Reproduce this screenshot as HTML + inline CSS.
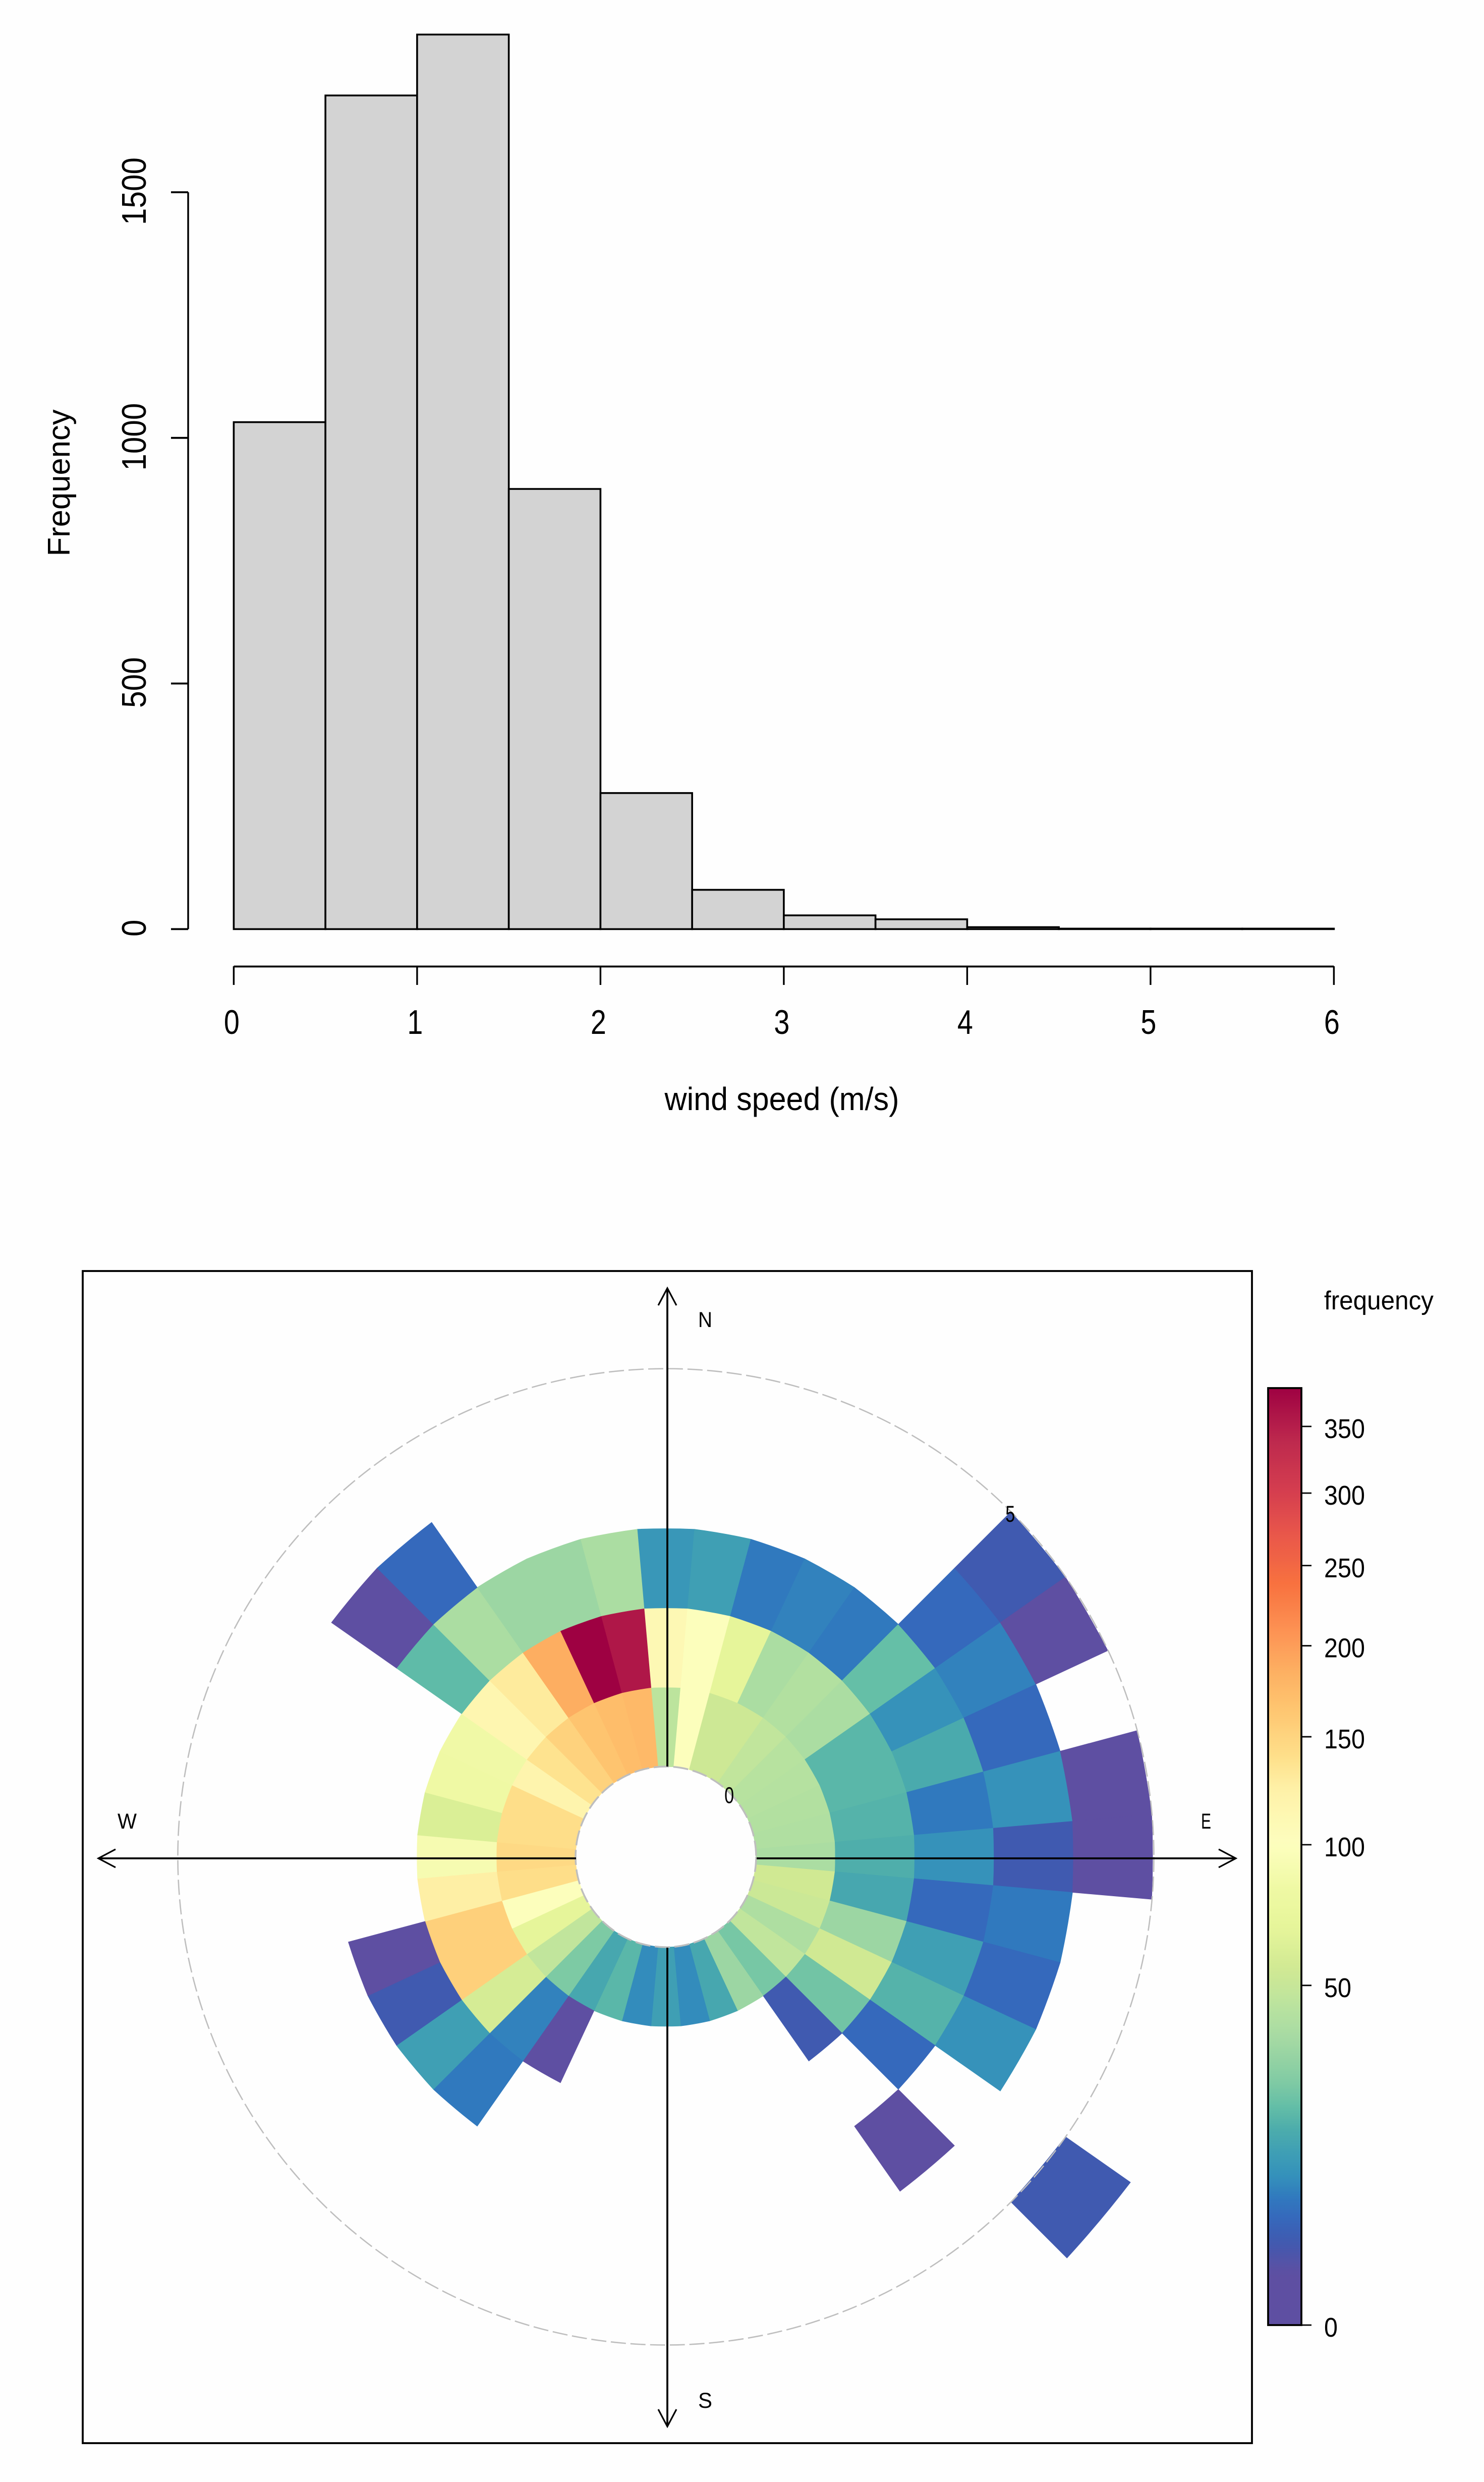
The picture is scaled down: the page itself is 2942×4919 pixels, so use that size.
<!DOCTYPE html>
<html lang="en">
<head>
<meta charset="utf-8">
<title>Wind speed histogram and polar frequency plot</title>
<style>
html,body{margin:0;padding:0;background:#fefefe;}
svg{display:block;}
text{font-family:"Liberation Sans",sans-serif;fill:#000;}
</style>
</head>
<body>
<svg id="figure" xmlns="http://www.w3.org/2000/svg" width="2942" height="4919" viewBox="0 0 2942 4919">
  <rect x="0" y="0" width="2942" height="4919" fill="#fefefe"/>
  <g id="hist">
    <text x="138" y="957" font-size="62" text-anchor="middle" textLength="291" lengthAdjust="spacingAndGlyphs" transform="rotate(-90 138 957)">Frequency</text>
    <text x="1550" y="2200" font-size="64" text-anchor="middle" textLength="465" lengthAdjust="spacingAndGlyphs">wind speed (m/s)</text>
  </g>
  <g id="polar">
    <rect x="164" y="2519" width="2318" height="2323" fill="none" stroke="#000" stroke-width="3.8"/>
    <g id="wedges"></g>
    <g id="polar-guides"></g>
    <text x="1384" y="2630" font-size="43" textLength="28" lengthAdjust="spacingAndGlyphs">N</text>
    <text x="1384" y="4772" font-size="43" textLength="28" lengthAdjust="spacingAndGlyphs">S</text>
    <text x="233" y="3624" font-size="43" textLength="38" lengthAdjust="spacingAndGlyphs">W</text>
    <text x="2381" y="3624" font-size="43" textLength="20" lengthAdjust="spacingAndGlyphs">E</text>
  </g>
  <g id="legend">
    <text x="2625" y="2595" font-size="52" textLength="217" lengthAdjust="spacingAndGlyphs">frequency</text>
  </g>
</svg>
<script>
// ---------- histogram data ----------
const histBreaks = [0, 0.5, 1, 1.5, 2, 2.5, 3, 3.5, 4, 4.5, 5, 5.5, 6];
const histCounts = [1032, 1697, 1821, 896, 277, 80, 28, 20, 4, 1, 1, 1];
const histXTicks = [0, 1, 2, 3, 4, 5, 6];
const histYTicks = [0, 500, 1000, 1500];

// ---------- polar frequency data: 36 directions, clockwise from north, one array per 1 m/s speed bin ----------
const wsBin0to1 = [45, 99, 53, 53, 47, 43, 42, 41, 40, 38, 55, 52, 39, 47, 24, 33, 15, 9, 13, 9, 19, 15, 25, 47, 68, 99, 141, 146, 141, 141, 119, 137, 152, 166, 172, 176];
const wsBin1to2 = [111, 99, 68, 38, 41, 38, 19, 19, 18, 17, 15, 33, 55, 23, 3, null, null, null, null, null, null, 1, 8, 58, 154, 154, 126, 91, 61, 82, 84, 115, 130, 186, 380, 357];
const wsBin2to3 = [11, 13, 7, 8, 7, 21, 10, 16, 7, 10, 5, 13, 18, 5, null, null, null, null, null, null, null, null, 7, 13, 3, 1, null, null, null, null, null, 20, 38, 33, 33, 38];
const wsBin3to4 = [null, null, null, null, null, 5, 8, 5, 10, 3, 7, 5, 10, null, 1, null, null, null, null, null, null, null, null, null, null, null, null, null, null, null, null, 1, 5, null, null, null];
const wsBin4to5 = [null, null, null, null, null, 3, 1, null, 1, 1, null, null, null, null, null, null, null, null, null, null, null, null, null, null, null, null, null, null, null, null, null, null, null, null, null, null];
const wsBin5to6 = [null, null, null, null, null, null, null, null, null, null, null, null, null, 3, null, null, null, null, null, null, null, null, null, null, null, null, null, null, null, null, null, null, null, null, null, null];
const speedBins = [wsBin0to1, wsBin1to2, wsBin2to3, wsBin3to4, wsBin4to5, wsBin5to6];
const directionStep = 10;
const speedTicks = [0, 5];

// ---------- colour scale ----------
const colorbarTicks = [0, 50, 100, 150, 200, 250, 300, 350];
const frequencyMax = 380.5;
const rampPositions = [0, 0.055, 0.089, 0.1147, 0.136, 0.158, 0.183, 0.208, 0.232, 0.257, 0.282, 0.307, 0.331, 0.356, 0.38, 0.423, 0.466, 0.513, 0.572, 0.605, 0.662, 0.70, 0.738, 0.79, 0.843, 0.889, 0.942, 1];
const rampColors = ["#5E4FA2", "#5E4FA2", "#405AB0", "#3569BC", "#3079BE", "#3490BB", "#3E9EB5", "#4CACAC", "#62BDA7", "#7ECAA4", "#93D2A3", "#A6DAA3", "#B4E1A0", "#C4E69B", "#D0E993", "#E6F59A", "#EFF9A4", "#FDFEBE", "#FEF1A8", "#FEE08B", "#FEC36E", "#FDAE61", "#FD9455", "#F8723F", "#E9574A", "#D53E4F", "#BE2A4E", "#9E0142"];

const NS = "http://www.w3.org/2000/svg";
function mk(tag, attrs, parent) {
  const el = document.createElementNS(NS, tag);
  for (const k in attrs) el.setAttribute(k, attrs[k]);
  parent.appendChild(el);
  return el;
}

const channel = s => [1, 3, 5].map(p => parseInt(s.substr(p, 2), 16));
function rampColor(u) {
  const t = Math.min(1, Math.max(0, u));
  let i = 0;
  while (i < rampPositions.length - 2 && t > rampPositions[i + 1]) i++;
  const f = (t - rampPositions[i]) / (rampPositions[i + 1] - rampPositions[i]);
  const a = channel(rampColors[i]), b = channel(rampColors[i + 1]);
  return "rgb(" + a.map((c, k) => Math.round(c + (b[k] - c) * f)).join(",") + ")";
}
const freqToUnit = v => Math.sqrt(v) / Math.sqrt(frequencyMax);

// ---------- histogram ----------
const xH = v => 463.4 + v * 363.5;
const yH = v => 1841.4 - v * 0.9736;
const histG = document.getElementById("hist");
histCounts.forEach((count, i) => {
  const bar = mk("rect", {
    x: xH(histBreaks[i]), y: yH(count),
    width: xH(histBreaks[i + 1]) - xH(histBreaks[i]), height: yH(0) - yH(count),
    fill: "#d3d3d3", stroke: "#000", "stroke-width": 3.6
  }, histG);
  
  
});
const xAxisLine = mk("line", { x1: xH(histXTicks[0]), x2: xH(histXTicks[histXTicks.length - 1]), y1: 1915.5, y2: 1915.5, stroke: "#000", "stroke-width": 3.8 }, histG);


histXTicks.forEach(t => {
  const tick = mk("line", { x1: xH(t), x2: xH(t), y1: 1915, y2: 1952, stroke: "#000", "stroke-width": 3.4 }, histG);
  
  
  const label = mk("text", { x: xH(t) - 4, y: 2049, "font-size": 68, "text-anchor": "middle", textLength: 31, lengthAdjust: "spacingAndGlyphs" }, histG);
  label.textContent = String(t);
  
  
});
const yAxisLine = mk("line", { x1: 373, x2: 373, y1: yH(histYTicks[0]), y2: yH(histYTicks[histYTicks.length - 1]), stroke: "#000", "stroke-width": 3.5 }, histG);


histYTicks.forEach(t => {
  const tick = mk("line", { x1: 339, x2: 373, y1: yH(t), y2: yH(t), stroke: "#000", "stroke-width": 3.8 }, histG);
  
  
  const s = String(t);
  const yc = yH(t) - 2;
  const label = mk("text", { x: 289, y: yc, "font-size": 68, "text-anchor": "middle", textLength: s.length * 33.5, lengthAdjust: "spacingAndGlyphs", transform: "rotate(-90 289 " + yc + ")" }, histG);
  label.textContent = s;
  
  
});

// ---------- polar plot ----------
const cx = 1320, cy = 3680;
const axisX = 1323, axisY = 3683;
const rOfSpeed = ws => 179 + 157.6 * ws;
const px = (deg, r) => cx + r * Math.sin(deg * Math.PI / 180);
const py = (deg, r) => cy - r * Math.cos(deg * Math.PI / 180);
const wedgeG = document.getElementById("wedges");
speedBins.forEach((bin, k) => {
  bin.forEach((value, i) => {
    if (value === null) return;
    const dir = i * directionStep;
    const a0 = dir - directionStep / 2, a1 = dir + directionStep / 2;
    const r0 = rOfSpeed(k), r1 = rOfSpeed(k + 1);
    // edges bulge about half an arc's depth, matching the reference's coarse polygon sampling
    const R1 = r1 * 2, R0 = r0 * 2;
    const d = "M" + px(a0, r1) + " " + py(a0, r1) +
      " A" + R1 + " " + R1 + " 0 0 1 " + px(a1, r1) + " " + py(a1, r1) +
      " L" + px(a1, r0) + " " + py(a1, r0) +
      " A" + R0 + " " + R0 + " 0 0 0 " + px(a0, r0) + " " + py(a0, r0) + " Z";
    const col = rampColor(freqToUnit(value));
    const wedge = mk("path", { d: d, fill: col, stroke: col, "stroke-width": 0.7 }, wedgeG);
    
    
  });
});

const guides = document.getElementById("polar-guides");
speedTicks.forEach(ws => {
  const ring = mk("circle", { cx: cx, cy: cy, r: ws === 0 ? rOfSpeed(ws) : rOfSpeed(ws) + 0.5, fill: "none", stroke: "#bebebe", "stroke-width": ws === 0 ? 3.5 : 2.6, "stroke-dasharray": "30 9" }, guides);
  
  
  const label = mk("text", { x: px(45, rOfSpeed(ws)) - 1, y: py(45, rOfSpeed(ws)) + 20, "font-size": 45, "text-anchor": "middle", textLength: 19, lengthAdjust: "spacingAndGlyphs" }, guides);
  label.textContent = String(ws);
  
  
});

const hubTop = 3501, hubBottom = 3860, hubLeft = 1142, hubRight = 1500;
const tipN = 2553, tipS = 4809, tipW = 195, tipE = 2450, headLen = 34, headHalf = 18;
const axesPath =
  "M" + axisX + " " + tipN + " V" + hubTop + " M" + axisX + " " + hubBottom + " V" + tipS +
  " M" + tipW + " " + axisY + " H" + hubLeft + " M" + hubRight + " " + axisY + " H" + tipE;
const axes = mk("path", { d: axesPath, fill: "none", stroke: "#000", "stroke-width": 3.8 }, guides);


const headsPath =
  "M" + (axisX - headHalf) + " " + (tipN + headLen) + " L" + axisX + " " + tipN + " L" + (axisX + headHalf) + " " + (tipN + headLen) +
  " M" + (axisX - headHalf) + " " + (tipS - headLen) + " L" + axisX + " " + tipS + " L" + (axisX + headHalf) + " " + (tipS - headLen) +
  " M" + (tipW + headLen) + " " + (axisY - headHalf) + " L" + tipW + " " + axisY + " L" + (tipW + headLen) + " " + (axisY + headHalf) +
  " M" + (tipE - headLen) + " " + (axisY - headHalf) + " L" + tipE + " " + axisY + " L" + (tipE - headLen) + " " + (axisY + headHalf);
const heads = mk("path", { d: headsPath, fill: "none", stroke: "#000", "stroke-width": 3.2 }, guides);



// ---------- colour bar ----------
const legendG = document.getElementById("legend");
const barX0 = 2514, barX1 = 2580, barY0 = 4608, barScale = 95.2;
const yBar = v => barY0 - Math.sqrt(v) * barScale;
const barTop = yBar(frequencyMax);
const defs = mk("defs", {}, legendG);
const grad = mk("linearGradient", { id: "ramp", x1: 0, y1: 1, x2: 0, y2: 0 }, defs);
for (let i = 0; i <= 120; i++) {
  mk("stop", { offset: i / 120, "stop-color": rampColor(i / 120) }, grad);
}
const bar = mk("rect", { x: barX0, y: barTop, width: barX1 - barX0, height: barY0 - barTop, fill: "url(#ramp)", stroke: "#000", "stroke-width": 3.8 }, legendG);


colorbarTicks.forEach(v => {
  const tick = mk("line", { x1: barX1, x2: 2600, y1: yBar(v), y2: yBar(v), stroke: "#000", "stroke-width": 2.8 }, legendG);
  
  
  const s = String(v);
  const label = mk("text", { x: 2625, y: yBar(v) + 23, "font-size": 54, textLength: s.length * 27, lengthAdjust: "spacingAndGlyphs" }, legendG);
  label.textContent = s;
  
  
});
</script>
</body>
</html>
